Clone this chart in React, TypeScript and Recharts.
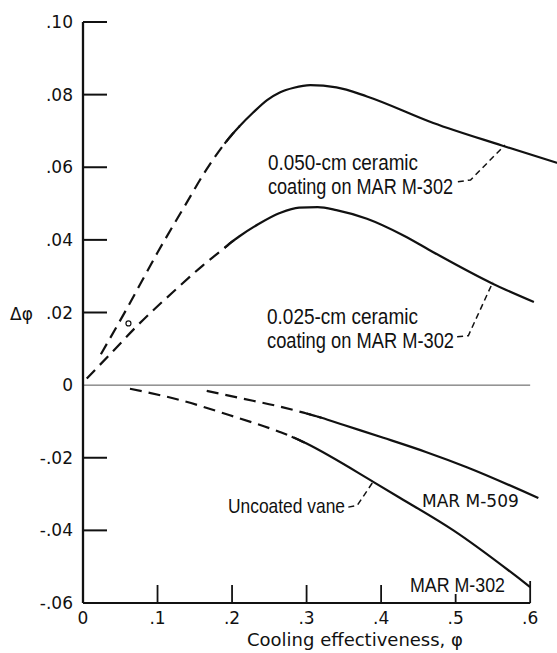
import { LineChart, Line, XAxis, YAxis, ReferenceLine, ReferenceDot } from 'recharts';

type Pt = { x: number; y: number };

const pts = (rows: number[][]): Pt[] => rows.map(([x, y]) => ({ x, y }));

// tick values
const xTicks = [0, 0.1, 0.2, 0.3, 0.4, 0.5, 0.6];
const yTicks = [-0.06, -0.04, -0.02, 0, 0.02, 0.04, 0.06, 0.08, 0.1];

// 0.050-cm ceramic coating on MAR M-302 (dashed / solid share a short overlap so the join stays smooth)
const coat050Dashed = pts([[0.024, 0.0085], [0.06, 0.0215], [0.1, 0.0365], [0.137, 0.0495], [0.166, 0.0595], [0.19, 0.0665], [0.2, 0.069], [0.21, 0.0713]]);
const coat050Solid = pts([[0.19, 0.0665], [0.2, 0.069], [0.21, 0.0713], [0.228, 0.075], [0.247, 0.0785], [0.264, 0.0806], [0.283, 0.0819], [0.305, 0.0826], [0.34, 0.082], [0.381, 0.0795], [0.47, 0.0722], [0.562, 0.066], [0.636, 0.0612]]);

// 0.025-cm ceramic coating on MAR M-302
const coat025Dashed = pts([[0.005, 0.0018], [0.04, 0.0093], [0.072, 0.0162], [0.126, 0.0266], [0.161, 0.033], [0.19, 0.0378], [0.2, 0.0395], [0.21, 0.041]]);
const coat025Solid = pts([[0.19, 0.0378], [0.2, 0.0395], [0.21, 0.041], [0.235, 0.0443], [0.264, 0.0474], [0.29, 0.0489], [0.315, 0.049], [0.34, 0.0482], [0.381, 0.0458], [0.43, 0.0412], [0.47, 0.0366], [0.549, 0.028], [0.605, 0.0229]]);

// uncoated vane, MAR M-509
const m509Dashed = pts([[0.166, -0.0016], [0.228, -0.0043], [0.26, -0.0057], [0.287, -0.0071], [0.3, -0.0078], [0.31, -0.0084], [0.32, -0.009]]);
const m509Solid = pts([[0.3, -0.0078], [0.31, -0.0084], [0.32, -0.009], [0.35, -0.011], [0.403, -0.0145], [0.46, -0.0184], [0.515, -0.0226], [0.611, -0.0311]]);

// uncoated vane, MAR M-302
const m302Dashed = pts([[0.063, -0.001], [0.13, -0.0041], [0.197, -0.0083], [0.264, -0.0129], [0.28, -0.0142], [0.29, -0.0151], [0.3, -0.0161]]);
const m302Solid = pts([[0.28, -0.0142], [0.29, -0.0151], [0.3, -0.0161], [0.39, -0.0267], [0.425, -0.031], [0.497, -0.04], [0.6, -0.0556]]);

// callout leaders
const lead050 = pts([[0.503, 0.056], [0.52, 0.0565], [0.566, 0.0661]]);
const lead025 = pts([[0.502, 0.0133], [0.517, 0.0136], [0.55, 0.0284]]);
const leadUncoated = pts([[0.356, -0.0336], [0.368, -0.0331], [0.389, -0.0267]]);

const marker = { x: 0.061, y: 0.017 };

const INK = '#111';
const tickFont = { fontFamily: 'DejaVu Sans', fontSize: 17, fill: INK };
const noteFont = { fontFamily: 'Liberation Sans', fontSize: 22, fill: INK, lengthAdjust: 'spacingAndGlyphs' };

const fmt = (v: number, d: number) => {
  if (v === 0) return '0';
  return v.toFixed(d).replace('0.', '.');
};

const YTick = (props: any) => {
  const { x, y, payload } = props;
  const v = payload.value;
  return (
    <g>
      <text x={x - 10} y={y} dy="0.36em" textAnchor="end" {...tickFont}>
        {fmt(v, 2)}
      </text>
      {v !== 0 && v !== -0.06 && <line x1={x} x2={x + 24} y1={y} y2={y} stroke={INK} strokeWidth={2} />}
    </g>
  );
};

const XTick = (props: any) => {
  const { x, y, payload } = props;
  const v = payload.value;
  const len = v === 0 ? 0 : v === 0.5 ? 9 : v === 0.6 ? 22 : 18;
  return (
    <g>
      <text x={x} y={y + 21} textAnchor="middle" {...tickFont}>
        {fmt(v, 1)}
      </text>
      {len > 0 && <line x1={x} x2={x} y1={y} y2={y - len} stroke={INK} strokeWidth={1.8} />}
    </g>
  );
};

const curve = (data: Pt[], dashed: boolean, key: string) => (
  <Line
    key={key}
    data={data}
    dataKey="y"
    type="monotone"
    stroke={INK}
    strokeWidth={2.2}
    strokeDasharray={dashed ? '12 7' : undefined}
    dot={false}
    activeDot={false}
    isAnimationActive={false}
  />
);

const leader = (data: Pt[], key: string) => (
  <Line
    key={key}
    data={data}
    dataKey="y"
    type="linear"
    stroke={INK}
    strokeWidth={1.5}
    strokeDasharray="6 4"
    dot={false}
    activeDot={false}
    isAnimationActive={false}
  />
);

export default function App() {
  return (
    <div style={{ position: 'relative', width: 557, height: 653, background: '#fff' }}>
      <style>{'body{margin:0}'}</style>
      <LineChart width={557} height={653} margin={{ top: 22, right: 0, bottom: 0, left: 0 }}>
        <XAxis
          dataKey="x"
          type="number"
          domain={[0, 0.636]}
          ticks={xTicks}
          interval={0}
          axisLine={false}
          tickLine={false}
          tickSize={0}
          tickMargin={0}
          height={50}
          tick={<XTick />}
        />
        <YAxis
          type="number"
          domain={[-0.06, 0.1]}
          ticks={yTicks}
          interval={0}
          width={83}
          axisLine={{ stroke: INK, strokeWidth: 2.3 }}
          tickLine={false}
          tickSize={0}
          tickMargin={0}
          tick={<YTick />}
        />
        <ReferenceLine segment={[{ x: 0, y: 0 }, { x: 0.6, y: 0 }]} stroke="#555" strokeWidth={1} />
        <ReferenceLine segment={[{ x: 0, y: -0.06 }, { x: 0.6, y: -0.06 }]} stroke={INK} strokeWidth={1.8} />
        {curve(coat050Solid, false, 'a2')}
        {curve(coat050Dashed, true, 'a1')}
        {curve(coat025Solid, false, 'b2')}
        {curve(coat025Dashed, true, 'b1')}
        {curve(m509Solid, false, 'c2')}
        {curve(m509Dashed, true, 'c1')}
        {curve(m302Solid, false, 'd2')}
        {curve(m302Dashed, true, 'd1')}
        {leader(lead050, 'l1')}
        {leader(lead025, 'l2')}
        {leader(leadUncoated, 'l3')}
        <ReferenceDot x={marker.x} y={marker.y} r={2.5} fill="#fff" stroke={INK} strokeWidth={1.2} />
      </LineChart>
      <svg width={557} height={653} style={{ position: 'absolute', left: 0, top: 0, pointerEvents: 'none' }}>
        <text x={10} y={320} {...tickFont}>Δφ</text>
        <text x={247} y={646} fontFamily="DejaVu Sans" fontSize={18} fill={INK}>Cooling effectiveness, φ</text>
        <text x={268} y={170} {...noteFont} textLength={150}>0.050-cm ceramic</text>
        <text x={268} y={194} {...noteFont} textLength={185}>coating on MAR M-302</text>
        <text x={267} y={324} {...noteFont} textLength={151}>0.025-cm ceramic</text>
        <text x={267} y={348} {...noteFont} textLength={187}>coating on MAR M-302</text>
        <text x={228} y={513} {...noteFont} fontSize={21} textLength={117}>Uncoated vane</text>
        <text x={422} y={507} {...tickFont}>MAR M-509</text>
        <text x={410} y={592} {...noteFont} fontSize={21} textLength={95}>MAR M-302</text>
      </svg>
    </div>
  );
}
